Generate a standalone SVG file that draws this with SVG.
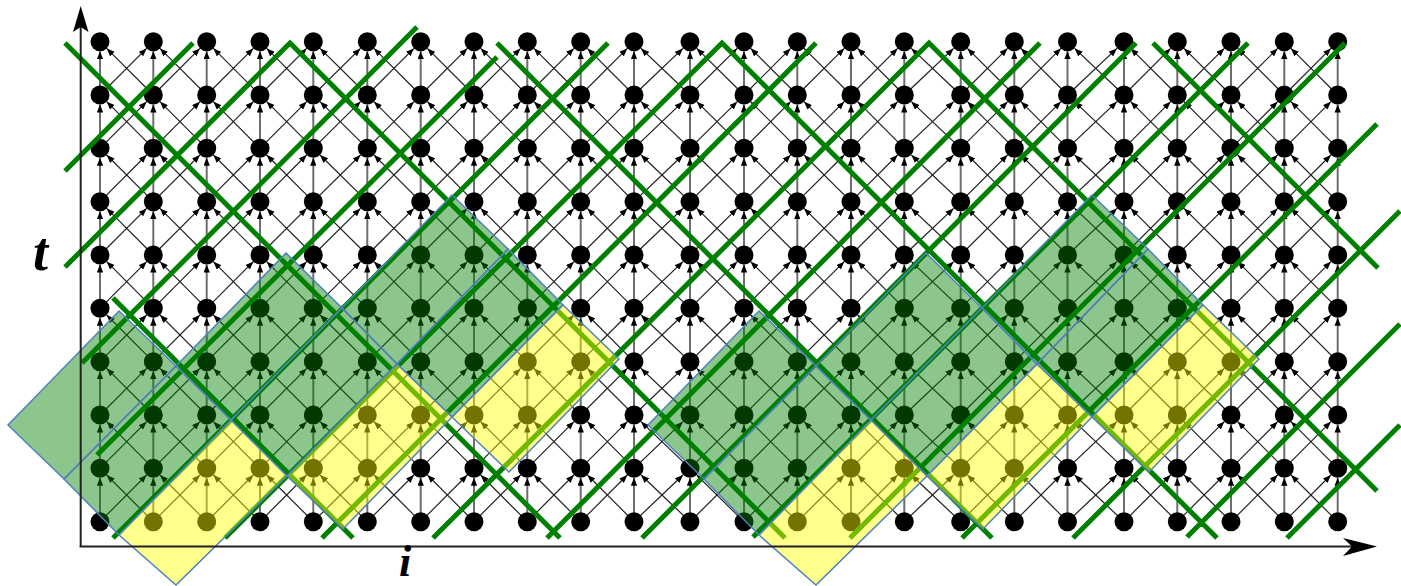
<svg xmlns="http://www.w3.org/2000/svg" width="1401" height="586" viewBox="0 0 1401 586">
<style>
.d line{stroke:#222;stroke-width:1.2;marker-end:url(#ah)}
.v line{stroke:#6e6e6e;stroke-width:2;marker-end:url(#ah)}
.gl{stroke:#008000;stroke-width:5;fill:none;stroke-linejoin:miter}
.fg{fill:#008000;fill-opacity:.45;stroke:#4f81bd;stroke-width:1.5}
.fy{fill:#ffff00;fill-opacity:.45;stroke:#4f81bd;stroke-width:1.5}
.ax{stroke:#222;stroke-width:2}
.lbl{font-family:"Liberation Serif",serif;font-style:italic;font-weight:bold;fill:#000}
</style>
<defs>
<marker id="ah" viewBox="0 0 8 6.4" refX="8" refY="3.2" markerWidth="8" markerHeight="6.4" markerUnits="userSpaceOnUse" orient="auto"><path d="M0,0L8,3.2L0,6.4z" fill="#000"/></marker>
<circle id="N" r="9.5" fill="#000"/>
<g id="D" class="d">
<line x1="0" y1="95" x2="46.6" y2="48.4"/><line x1="53.3" y1="95" x2="6.7" y2="48.4"/>
<line x1="0" y1="148.3" x2="46.6" y2="101.7"/><line x1="53.3" y1="148.3" x2="6.7" y2="101.7"/>
<line x1="0" y1="201.7" x2="46.6" y2="155"/><line x1="53.3" y1="201.7" x2="6.7" y2="155"/>
<line x1="0" y1="255" x2="46.6" y2="208.4"/><line x1="53.3" y1="255" x2="6.7" y2="208.4"/>
<line x1="0" y1="308.3" x2="46.6" y2="261.7"/><line x1="53.3" y1="308.3" x2="6.7" y2="261.7"/>
<line x1="0" y1="361.7" x2="46.6" y2="315"/><line x1="53.3" y1="361.7" x2="6.7" y2="315"/>
<line x1="0" y1="415" x2="46.6" y2="368.4"/><line x1="53.3" y1="415" x2="6.7" y2="368.4"/>
<line x1="0" y1="468.3" x2="46.6" y2="421.7"/><line x1="53.3" y1="468.3" x2="6.7" y2="421.7"/>
<line x1="0" y1="521.7" x2="46.6" y2="475"/><line x1="53.3" y1="521.7" x2="6.7" y2="475"/>
</g>
<g id="V" class="v">
<line x1="0" y1="95" x2="0" y2="51.2"/><line x1="0" y1="148.3" x2="0" y2="104.5"/><line x1="0" y1="201.7" x2="0" y2="157.8"/>
<line x1="0" y1="255" x2="0" y2="211.2"/><line x1="0" y1="308.3" x2="0" y2="264.5"/><line x1="0" y1="361.7" x2="0" y2="317.8"/>
<line x1="0" y1="415" x2="0" y2="371.2"/><line x1="0" y1="468.3" x2="0" y2="424.5"/><line x1="0" y1="521.7" x2="0" y2="477.8"/>
</g>
</defs>
<rect width="1401" height="586" fill="#fff"/>
<g id="connectors">
<g id="diagonals">
<use href="#D" x="100"/><use href="#D" x="153.3"/><use href="#D" x="206.7"/><use href="#D" x="260"/>
<use href="#D" transform="translate(313.3,0) scale(1.0125,1)"/><use href="#D" x="367.3"/><use href="#D" x="420.7"/><use href="#D" x="474"/>
<use href="#D" x="527.3"/><use href="#D" x="580.7"/><use href="#D" transform="translate(634,0) scale(1.05,1)"/>
<use href="#D" transform="translate(690,0) scale(1.0125,1)"/><use href="#D" x="744"/><use href="#D" transform="translate(797.3,0) scale(1.007,1)"/>
<use href="#D" x="851"/><use href="#D" transform="translate(904.3,0) scale(1.0576,1)"/><use href="#D" transform="translate(960.7,0) scale(1.005,1)"/>
<use href="#D" x="1014.3"/><use href="#D" transform="translate(1067.5,0) scale(1.0594,1)"/><use href="#D" x="1124"/>
<use href="#D" transform="translate(1177.3,0) scale(1.007,1)"/><use href="#D" x="1231"/><use href="#D" x="1284.3"/>
</g>
<g id="verticals">
<use href="#V" x="100"/><use href="#V" x="153.3"/><use href="#V" x="206.7"/><use href="#V" x="260"/><use href="#V" x="313.3"/><use href="#V" x="367.3"/>
<use href="#V" x="420.7"/><use href="#V" x="474"/><use href="#V" x="527.3"/><use href="#V" x="580.7"/><use href="#V" x="634"/><use href="#V" x="690"/>
<use href="#V" x="744"/><use href="#V" x="797.3"/><use href="#V" x="851"/><use href="#V" x="904.3"/><use href="#V" x="960.7"/><use href="#V" x="1014.3"/>
<use href="#V" x="1067.5"/><use href="#V" x="1124"/><use href="#V" x="1177.3"/><use href="#V" x="1231"/><use href="#V" x="1284.3"/><use href="#V" x="1337.7"/>
</g>
</g>
<g id="nodes">
<g id="col0" transform="translate(100,0)"><use id="n0_0" href="#N" y="41.7"/><use id="n0_1" href="#N" y="95"/><use id="n0_2" href="#N" y="148.3"/><use id="n0_3" href="#N" y="201.7"/><use id="n0_4" href="#N" y="255"/><use id="n0_5" href="#N" y="308.3"/><use id="n0_6" href="#N" y="361.7"/><use id="n0_7" href="#N" y="415"/><use id="n0_8" href="#N" y="468.3"/><use id="n0_9" href="#N" y="521.7"/></g>
<g id="col1" transform="translate(153.3,0)"><use id="n1_0" href="#N" y="41.7"/><use id="n1_1" href="#N" y="95"/><use id="n1_2" href="#N" y="148.3"/><use id="n1_3" href="#N" y="201.7"/><use id="n1_4" href="#N" y="255"/><use id="n1_5" href="#N" y="308.3"/><use id="n1_6" href="#N" y="361.7"/><use id="n1_7" href="#N" y="415"/><use id="n1_8" href="#N" y="468.3"/><use id="n1_9" href="#N" y="521.7"/></g>
<g id="col2" transform="translate(206.7,0)"><use id="n2_0" href="#N" y="41.7"/><use id="n2_1" href="#N" y="95"/><use id="n2_2" href="#N" y="148.3"/><use id="n2_3" href="#N" y="201.7"/><use id="n2_4" href="#N" y="255"/><use id="n2_5" href="#N" y="308.3"/><use id="n2_6" href="#N" y="361.7"/><use id="n2_7" href="#N" y="415"/><use id="n2_8" href="#N" y="468.3"/><use id="n2_9" href="#N" y="521.7"/></g>
<g id="col3" transform="translate(260,0)"><use id="n3_0" href="#N" y="41.7"/><use id="n3_1" href="#N" y="95"/><use id="n3_2" href="#N" y="148.3"/><use id="n3_3" href="#N" y="201.7"/><use id="n3_4" href="#N" y="255"/><use id="n3_5" href="#N" y="308.3"/><use id="n3_6" href="#N" y="361.7"/><use id="n3_7" href="#N" y="415"/><use id="n3_8" href="#N" y="468.3"/><use id="n3_9" href="#N" y="521.7"/></g>
<g id="col4" transform="translate(313.3,0)"><use id="n4_0" href="#N" y="41.7"/><use id="n4_1" href="#N" y="95"/><use id="n4_2" href="#N" y="148.3"/><use id="n4_3" href="#N" y="201.7"/><use id="n4_4" href="#N" y="255"/><use id="n4_5" href="#N" y="308.3"/><use id="n4_6" href="#N" y="361.7"/><use id="n4_7" href="#N" y="415"/><use id="n4_8" href="#N" y="468.3"/><use id="n4_9" href="#N" y="521.7"/></g>
<g id="col5" transform="translate(367.3,0)"><use id="n5_0" href="#N" y="41.7"/><use id="n5_1" href="#N" y="95"/><use id="n5_2" href="#N" y="148.3"/><use id="n5_3" href="#N" y="201.7"/><use id="n5_4" href="#N" y="255"/><use id="n5_5" href="#N" y="308.3"/><use id="n5_6" href="#N" y="361.7"/><use id="n5_7" href="#N" y="415"/><use id="n5_8" href="#N" y="468.3"/><use id="n5_9" href="#N" y="521.7"/></g>
<g id="col6" transform="translate(420.7,0)"><use id="n6_0" href="#N" y="41.7"/><use id="n6_1" href="#N" y="95"/><use id="n6_2" href="#N" y="148.3"/><use id="n6_3" href="#N" y="201.7"/><use id="n6_4" href="#N" y="255"/><use id="n6_5" href="#N" y="308.3"/><use id="n6_6" href="#N" y="361.7"/><use id="n6_7" href="#N" y="415"/><use id="n6_8" href="#N" y="468.3"/><use id="n6_9" href="#N" y="521.7"/></g>
<g id="col7" transform="translate(474,0)"><use id="n7_0" href="#N" y="41.7"/><use id="n7_1" href="#N" y="95"/><use id="n7_2" href="#N" y="148.3"/><use id="n7_3" href="#N" y="201.7"/><use id="n7_4" href="#N" y="255"/><use id="n7_5" href="#N" y="308.3"/><use id="n7_6" href="#N" y="361.7"/><use id="n7_7" href="#N" y="415"/><use id="n7_8" href="#N" y="468.3"/><use id="n7_9" href="#N" y="521.7"/></g>
<g id="col8" transform="translate(527.3,0)"><use id="n8_0" href="#N" y="41.7"/><use id="n8_1" href="#N" y="95"/><use id="n8_2" href="#N" y="148.3"/><use id="n8_3" href="#N" y="201.7"/><use id="n8_4" href="#N" y="255"/><use id="n8_5" href="#N" y="308.3"/><use id="n8_6" href="#N" y="361.7"/><use id="n8_7" href="#N" y="415"/><use id="n8_8" href="#N" y="468.3"/><use id="n8_9" href="#N" y="521.7"/></g>
<g id="col9" transform="translate(580.7,0)"><use id="n9_0" href="#N" y="41.7"/><use id="n9_1" href="#N" y="95"/><use id="n9_2" href="#N" y="148.3"/><use id="n9_3" href="#N" y="201.7"/><use id="n9_4" href="#N" y="255"/><use id="n9_5" href="#N" y="308.3"/><use id="n9_6" href="#N" y="361.7"/><use id="n9_7" href="#N" y="415"/><use id="n9_8" href="#N" y="468.3"/><use id="n9_9" href="#N" y="521.7"/></g>
<g id="col10" transform="translate(634,0)"><use id="n10_0" href="#N" y="41.7"/><use id="n10_1" href="#N" y="95"/><use id="n10_2" href="#N" y="148.3"/><use id="n10_3" href="#N" y="201.7"/><use id="n10_4" href="#N" y="255"/><use id="n10_5" href="#N" y="308.3"/><use id="n10_6" href="#N" y="361.7"/><use id="n10_7" href="#N" y="415"/><use id="n10_8" href="#N" y="468.3"/><use id="n10_9" href="#N" y="521.7"/></g>
<g id="col11" transform="translate(690,0)"><use id="n11_0" href="#N" y="41.7"/><use id="n11_1" href="#N" y="95"/><use id="n11_2" href="#N" y="148.3"/><use id="n11_3" href="#N" y="201.7"/><use id="n11_4" href="#N" y="255"/><use id="n11_5" href="#N" y="308.3"/><use id="n11_6" href="#N" y="361.7"/><use id="n11_7" href="#N" y="415"/><use id="n11_8" href="#N" y="468.3"/><use id="n11_9" href="#N" y="521.7"/></g>
<g id="col12" transform="translate(744,0)"><use id="n12_0" href="#N" y="41.7"/><use id="n12_1" href="#N" y="95"/><use id="n12_2" href="#N" y="148.3"/><use id="n12_3" href="#N" y="201.7"/><use id="n12_4" href="#N" y="255"/><use id="n12_5" href="#N" y="308.3"/><use id="n12_6" href="#N" y="361.7"/><use id="n12_7" href="#N" y="415"/><use id="n12_8" href="#N" y="468.3"/><use id="n12_9" href="#N" y="521.7"/></g>
<g id="col13" transform="translate(797.3,0)"><use id="n13_0" href="#N" y="41.7"/><use id="n13_1" href="#N" y="95"/><use id="n13_2" href="#N" y="148.3"/><use id="n13_3" href="#N" y="201.7"/><use id="n13_4" href="#N" y="255"/><use id="n13_5" href="#N" y="308.3"/><use id="n13_6" href="#N" y="361.7"/><use id="n13_7" href="#N" y="415"/><use id="n13_8" href="#N" y="468.3"/><use id="n13_9" href="#N" y="521.7"/></g>
<g id="col14" transform="translate(851,0)"><use id="n14_0" href="#N" y="41.7"/><use id="n14_1" href="#N" y="95"/><use id="n14_2" href="#N" y="148.3"/><use id="n14_3" href="#N" y="201.7"/><use id="n14_4" href="#N" y="255"/><use id="n14_5" href="#N" y="308.3"/><use id="n14_6" href="#N" y="361.7"/><use id="n14_7" href="#N" y="415"/><use id="n14_8" href="#N" y="468.3"/><use id="n14_9" href="#N" y="521.7"/></g>
<g id="col15" transform="translate(904.3,0)"><use id="n15_0" href="#N" y="41.7"/><use id="n15_1" href="#N" y="95"/><use id="n15_2" href="#N" y="148.3"/><use id="n15_3" href="#N" y="201.7"/><use id="n15_4" href="#N" y="255"/><use id="n15_5" href="#N" y="308.3"/><use id="n15_6" href="#N" y="361.7"/><use id="n15_7" href="#N" y="415"/><use id="n15_8" href="#N" y="468.3"/><use id="n15_9" href="#N" y="521.7"/></g>
<g id="col16" transform="translate(960.7,0)"><use id="n16_0" href="#N" y="41.7"/><use id="n16_1" href="#N" y="95"/><use id="n16_2" href="#N" y="148.3"/><use id="n16_3" href="#N" y="201.7"/><use id="n16_4" href="#N" y="255"/><use id="n16_5" href="#N" y="308.3"/><use id="n16_6" href="#N" y="361.7"/><use id="n16_7" href="#N" y="415"/><use id="n16_8" href="#N" y="468.3"/><use id="n16_9" href="#N" y="521.7"/></g>
<g id="col17" transform="translate(1014.3,0)"><use id="n17_0" href="#N" y="41.7"/><use id="n17_1" href="#N" y="95"/><use id="n17_2" href="#N" y="148.3"/><use id="n17_3" href="#N" y="201.7"/><use id="n17_4" href="#N" y="255"/><use id="n17_5" href="#N" y="308.3"/><use id="n17_6" href="#N" y="361.7"/><use id="n17_7" href="#N" y="415"/><use id="n17_8" href="#N" y="468.3"/><use id="n17_9" href="#N" y="521.7"/></g>
<g id="col18" transform="translate(1067.5,0)"><use id="n18_0" href="#N" y="41.7"/><use id="n18_1" href="#N" y="95"/><use id="n18_2" href="#N" y="148.3"/><use id="n18_3" href="#N" y="201.7"/><use id="n18_4" href="#N" y="255"/><use id="n18_5" href="#N" y="308.3"/><use id="n18_6" href="#N" y="361.7"/><use id="n18_7" href="#N" y="415"/><use id="n18_8" href="#N" y="468.3"/><use id="n18_9" href="#N" y="521.7"/></g>
<g id="col19" transform="translate(1124,0)"><use id="n19_0" href="#N" y="41.7"/><use id="n19_1" href="#N" y="95"/><use id="n19_2" href="#N" y="148.3"/><use id="n19_3" href="#N" y="201.7"/><use id="n19_4" href="#N" y="255"/><use id="n19_5" href="#N" y="308.3"/><use id="n19_6" href="#N" y="361.7"/><use id="n19_7" href="#N" y="415"/><use id="n19_8" href="#N" y="468.3"/><use id="n19_9" href="#N" y="521.7"/></g>
<g id="col20" transform="translate(1177.3,0)"><use id="n20_0" href="#N" y="41.7"/><use id="n20_1" href="#N" y="95"/><use id="n20_2" href="#N" y="148.3"/><use id="n20_3" href="#N" y="201.7"/><use id="n20_4" href="#N" y="255"/><use id="n20_5" href="#N" y="308.3"/><use id="n20_6" href="#N" y="361.7"/><use id="n20_7" href="#N" y="415"/><use id="n20_8" href="#N" y="468.3"/><use id="n20_9" href="#N" y="521.7"/></g>
<g id="col21" transform="translate(1231,0)"><use id="n21_0" href="#N" y="41.7"/><use id="n21_1" href="#N" y="95"/><use id="n21_2" href="#N" y="148.3"/><use id="n21_3" href="#N" y="201.7"/><use id="n21_4" href="#N" y="255"/><use id="n21_5" href="#N" y="308.3"/><use id="n21_6" href="#N" y="361.7"/><use id="n21_7" href="#N" y="415"/><use id="n21_8" href="#N" y="468.3"/><use id="n21_9" href="#N" y="521.7"/></g>
<g id="col22" transform="translate(1284.3,0)"><use id="n22_0" href="#N" y="41.7"/><use id="n22_1" href="#N" y="95"/><use id="n22_2" href="#N" y="148.3"/><use id="n22_3" href="#N" y="201.7"/><use id="n22_4" href="#N" y="255"/><use id="n22_5" href="#N" y="308.3"/><use id="n22_6" href="#N" y="361.7"/><use id="n22_7" href="#N" y="415"/><use id="n22_8" href="#N" y="468.3"/><use id="n22_9" href="#N" y="521.7"/></g>
<g id="col23" transform="translate(1337.7,0)"><use id="n23_0" href="#N" y="41.7"/><use id="n23_1" href="#N" y="95"/><use id="n23_2" href="#N" y="148.3"/><use id="n23_3" href="#N" y="201.7"/><use id="n23_4" href="#N" y="255"/><use id="n23_5" href="#N" y="308.3"/><use id="n23_6" href="#N" y="361.7"/><use id="n23_7" href="#N" y="415"/><use id="n23_8" href="#N" y="468.3"/><use id="n23_9" href="#N" y="521.7"/></g>
</g>
<g id="tile-lines" class="gl">
<path d="M65,171L193,43M65,267L290,43L785,538M82,363L417,27M97,455L497,57M113,538L608,43M225,538L722,43L1217,538M322,538L816,43M433,538L929,43L1377,491M547,538L1040,43M642,538L1136,43M753,537L1248,43M850,538L1345,43M962,538L1377,124M1073,538L1400,211M1187,537L1400,324M1287,538L1400,425"/>
<path d="M113,298L353,538M65,43L560,538M497,43L992,538M1153,43L1378,268"/>
</g>
<g id="tiles-left">
<polygon class="fg" points="8,425 119,311 176,366 64,479"/>
<polygon class="fg" points="64,479 176,366 231,420 119,535"/>
<polygon class="fg" points="176,366 286,253 342,308 231,420"/>
<polygon class="fg" points="231,420 342,308 397,364 287,476"/>
<polygon class="fg" points="342,308 452,195 508,249 397,364"/>
<polygon class="fg" points="397,364 508,249 563,305 452,417"/>
<polygon class="fy" points="119,535 231,420 287,476 176,585"/>
<polygon class="fy" points="287,476 397,364 452,417 343,529"/>
<polygon class="fy" points="452,417 563,305 619,359 509,472"/>
</g>
<g id="tiles-right" transform="translate(640,0)">
<polygon class="fg" points="8,425 119,311 176,366 64,479"/>
<polygon class="fg" points="64,479 176,366 231,420 119,535"/>
<polygon class="fg" points="176,366 286,253 342,308 231,420"/>
<polygon class="fg" points="231,420 342,308 397,364 287,476"/>
<polygon class="fg" points="342,308 452,195 508,249 397,364"/>
<polygon class="fg" points="397,364 508,249 563,305 452,417"/>
<polygon class="fy" points="119,535 231,420 287,476 176,585"/>
<polygon class="fy" points="287,476 397,364 452,417 343,529"/>
<polygon class="fy" points="452,417 563,305 619,359 509,472"/>
</g>
<g id="axes">
<line class="ax" x1="80.7" y1="547" x2="80.7" y2="24"/>
<path d="M80.7,6L88.5,32L80.7,27L73,32Z" fill="#000"/>
<line class="ax" x1="79.7" y1="546.5" x2="1358" y2="546.5"/>
<path d="M1377,546.5L1343,538L1352,546.5L1343,556Z" fill="#000"/>
<text class="lbl" x="33" y="270" font-size="54">t</text>
<text class="lbl" x="399" y="576" font-size="44">i</text>
</g>
</svg>
